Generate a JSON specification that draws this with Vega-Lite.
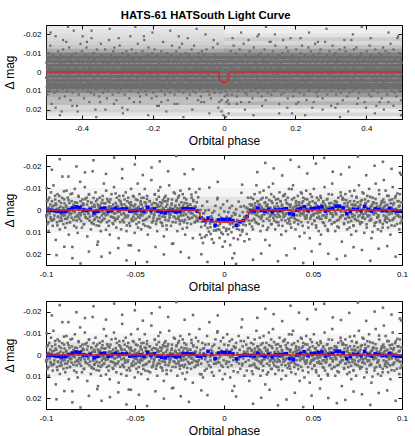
{
"$schema": "https://vega.github.io/schema/vega-lite/v6.json",
"background": "white",
"padding": {"left": 3, "top": 9, "right": 14, "bottom": 4},
"title": {"text": "HATS-61 HATSouth Light Curve", "font": "Liberation Sans", "fontSize": 11.3, "fontWeight": "bold", "color": "#000", "anchor": "middle", "offset": 3},
"bounds": "flush",
"spacing": 36,
"resolve": {"scale": {"opacity": "independent"}},
"data": {"values": "p,m\n-.0998,.0024\n-.0995,-.004\n-.0992,.0064\n-.0988,-.0008\n-.0985,.0096\n-.0982,-.0056\n-.0978,0\n-.0975,.0032\n-.0972,-.008\n-.0968,.0048\n-.0965,-.0016\n-.0962,.0072\n-.0958,-.0112\n-.0955,.004\n-.0952,.0008\n-.0948,-.0048\n-.0945,.0136\n-.0942,-.0024\n-.0938,.0056\n-.0935,-.0072\n-.0932,.0032\n-.0928,-.0008\n-.0925,-.0064\n-.0922,.0088\n-.0918,.0016\n-.0915,-.0032\n-.0912,.0048\n-.0908,-.0152\n-.0905,0\n-.0902,.0064\n-.0898,-.0048\n-.0895,.0024\n-.0892,.008\n-.0888,-.0016\n-.0885,-.0088\n-.0882,.004\n-.0878,-.0056\n-.0875,.0008\n-.0872,.0112\n-.0868,-.0032\n-.0865,.0056\n-.0862,-.0072\n-.0858,.0016\n-.0855,-.004\n-.0852,.0168\n-.0848,0\n-.0845,-.0024\n-.0842,.0072\n-.0838,-.0096\n-.0835,.0032\n-.0832,-.0008\n-.0828,.0048\n-.0825,-.0032\n-.0822,.0104\n-.0818,-.0064\n-.0815,.0016\n-.0812,.004\n-.0808,-.0128\n-.0805,.0024\n-.0802,-.0016\n-.0798,.008\n-.0795,-.0048\n-.0792,.0008\n-.0788,-.0024\n-.0785,.0064\n-.0782,-.0104\n-.0778,.0032\n-.0775,0\n-.0772,-.0056\n-.0768,.012\n-.0765,-.004\n-.0762,.0016\n-.0758,-.0072\n-.0755,.0048\n-.0752,-.0008\n-.0748,.0088\n-.0745,-.0032\n-.0742,.0056\n-.0738,-.0176\n-.0735,.0024\n-.0732,.0064\n-.0728,-.0024\n-.0725,.004\n-.0722,-.008\n-.0718,0\n-.0715,.0032\n-.0712,-.0048\n-.0708,.0144\n-.0705,-.0016\n-.0702,.0072\n-.0698,-.0056\n-.0695,.0008\n-.0692,.0096\n-.0688,-.0032\n-.0685,.0048\n-.0682,-.0064\n-.0678,.0016\n-.0675,-.012\n-.0672,.004\n-.0668,-.0008\n-.0665,.0024\n-.0662,-.0088\n-.0658,.0056\n-.0655,0\n-.0652,-.004\n-.0648,.0072\n-.0645,-.0016\n-.0642,.0112\n-.0638,-.0048\n-.0635,.0008\n-.0632,-.0072\n-.0628,.0032\n-.0625,-.0008\n-.0622,.0064\n-.0618,-.0104\n-.0615,.0016\n-.0612,.0048\n-.0608,-.0032\n-.0605,.008\n-.0602,-.0056\n-.0598,.004\n-.0595,-.0016\n-.0592,.0128\n-.0588,-.0064\n-.0585,.0008\n-.0582,-.004\n-.0578,.0088\n-.0575,-.0024\n-.0572,-.0144\n-.0568,.0048\n-.0565,0\n-.0562,.0056\n-.0558,-.0048\n-.0555,.0024\n-.0552,-.008\n-.0548,.0096\n-.0545,-.0008\n-.0542,.0032\n-.0538,-.0056\n-.0535,.016\n-.0532,-.0032\n-.0528,.0072\n-.0525,-.0024\n-.0522,-.0096\n-.0518,.004\n-.0515,.0008\n-.0512,-.0064\n-.0508,.0048\n-.0505,-.0016\n-.0502,.0104\n-.0498,.0016\n-.0495,-.0048\n-.0492,.0064\n-.0488,-.0008\n-.0485,-.012\n-.0482,.0032\n-.0478,.0056\n-.0475,-.0072\n-.0472,.0024\n-.0468,-.004\n-.0465,.0088\n-.0462,-.0024\n-.0458,0\n-.0455,.0048\n-.0452,-.0056\n-.0448,.0016\n-.0445,-.0096\n-.0442,.0072\n-.0438,-.0032\n-.0435,.004\n-.0432,-.0064\n-.0428,.0112\n-.0425,-.0016\n-.0422,.0032\n-.0418,-.004\n-.0415,.008\n-.0412,-.0008\n-.0408,-.0136\n-.0405,.0056\n-.0402,0\n-.0398,.0048\n-.0395,-.0032\n-.0392,.0024\n-.0388,-.0072\n-.0385,.0008\n-.0382,.0064\n-.0378,-.0048\n-.0375,.0096\n-.0372,-.0024\n-.0368,-.0088\n-.0365,-.0016\n-.0362,.004\n-.0358,-.0104\n-.0355,.0056\n-.0352,0\n-.0348,-.0032\n-.0345,.0072\n-.0342,-.0008\n-.0338,.012\n-.0335,-.0056\n-.0332,.0032\n-.0328,-.0064\n-.0325,.0016\n-.0322,.0088\n-.0318,-.004\n-.0315,0\n-.0312,.0048\n-.0308,-.0112\n-.0305,.0024\n-.0302,-.0008\n-.0298,.0072\n-.0295,-.0024\n-.0292,-.0048\n-.0288,.0008\n-.0285,.0152\n-.0282,-.008\n-.0278,.0032\n-.0275,-.0016\n-.0272,.0056\n-.0268,-.004\n-.0265,-.0008\n-.0262,.0096\n-.0258,-.0056\n-.0255,.004\n-.0252,-.0024\n-.0248,.0064\n-.0245,-.0088\n-.0242,.0016\n-.0238,0\n-.0235,.0048\n-.0232,-.0072\n-.0228,.0024\n-.0225,.0056\n-.0222,-.0032\n-.0218,.0112\n-.0215,-.0008\n-.0212,-.0048\n-.0208,.008\n-.0205,-.0016\n-.0202,.0032\n-.0198,.0008\n-.0195,-.0096\n-.0192,.004\n-.0188,-.0024\n-.0185,.0064\n-.0182,-.0056\n-.0178,.0016\n-.0175,.0128\n-.0172,-.004\n-.0168,-.0008\n-.0165,.0056\n-.0162,-.0016\n-.0158,-.008\n-.0155,.0048\n-.0152,0\n.0152,-.0056\n.0155,.0048\n.0158,-.0024\n.0162,.0088\n.0165,0\n.0168,.004\n.0172,-.0072\n.0175,-.0016\n.0178,.0056\n.0182,-.0112\n.0185,.0024\n.0188,.0008\n.0192,-.004\n.0195,.0064\n.0198,-.0008\n.0202,-.0024\n.0205,.0096\n.0208,-.0048\n.0212,.0032\n.0215,0\n.0218,.0072\n.0222,-.0088\n.0225,.0016\n.0228,-.0032\n.0232,.0136\n.0235,.0008\n.0238,-.0056\n.0242,.004\n.0245,-.0016\n.0248,.008\n.0252,-.0104\n.0255,.0048\n.0258,-.0008\n.0262,.0024\n.0265,-.0072\n.0268,.0064\n.0272,-.0032\n.0275,-.012\n.0278,.0016\n.0282,.0048\n.0285,-.0008\n.0288,.0088\n.0292,-.0048\n.0295,0\n.0298,.0032\n.0302,-.0016\n.0305,.0056\n.0308,.0024\n.0312,-.008\n.0315,.0008\n.0318,-.004\n.0322,.0112\n.0325,-.0024\n.0328,.0072\n.0332,-.0064\n.0335,.0032\n.0338,-.0008\n.0342,-.0072\n.0345,.0048\n.0348,.0096\n.0352,-.0032\n.0355,.0016\n.0358,-.0056\n.0362,.004\n.0365,-.0096\n.0368,0\n.0372,.0064\n.0375,-.0024\n.0378,.008\n.0382,-.0048\n.0385,.0008\n.0388,-.0112\n.0392,.0032\n.0395,.0056\n.0398,-.0016\n.0402,.0088\n.0405,-.004\n.0408,.0024\n.0412,-.0008\n.0415,-.0064\n.0418,.0048\n.0422,-.0024\n.0425,.012\n.0428,0\n.0432,-.008\n.0435,.0016\n.0438,-.0032\n.0442,.0072\n.0445,-.0056\n.0448,.0008\n.0452,.0104\n.0455,-.0016\n.0458,.004\n.0462,-.0088\n.0465,.0024\n.0468,-.0048\n.0472,.0056\n.0475,0\n.0478,-.0024\n.0482,.0128\n.0485,-.0072\n.0488,.0032\n.0492,-.0008\n.0495,.0064\n.0498,-.004\n.0502,.0024\n.0505,-.0096\n.0508,.0048\n.0512,.0016\n.0515,-.0032\n.0518,.008\n.0522,-.0056\n.0525,.0008\n.0528,-.0016\n.0532,.0096\n.0535,-.0008\n.0538,.004\n.0542,-.0064\n.0545,.0112\n.0548,-.0024\n.0552,0\n.0555,.0056\n.0558,-.004\n.0562,.0024\n.0565,-.0104\n.0568,.0072\n.0572,-.0016\n.0575,.0032\n.0578,-.0048\n.0582,.0088\n.0585,-.0008\n.0588,-.0072\n.0592,.0048\n.0595,0\n.0598,.0016\n.0602,-.0032\n.0605,.0064\n.0608,-.012\n.0612,.0024\n.0615,-.0008\n.0618,.0056\n.0622,-.004\n.0625,.0096\n.0628,.0016\n.0632,-.0024\n.0635,.0048\n.0638,0\n.0642,-.0056\n.0645,.008\n.0648,-.0016\n.0652,.0032\n.0655,-.008\n.0658,.0008\n.0662,.0144\n.0665,-.0048\n.0668,.0024\n.0672,-.0048\n.0675,.0064\n.0678,.0008\n.0682,-.0072\n.0685,.004\n.0688,-.0016\n.0692,.0088\n.0695,-.0032\n.0698,.0056\n.0702,-.0008\n.0705,.008\n.0708,-.004\n.0712,.0016\n.0715,.0112\n.0718,-.0064\n.0722,.0032\n.0725,-.0024\n.0728,.0072\n.0732,-.0088\n.0735,.004\n.0738,-.0024\n.0742,.0096\n.0745,-.0056\n.0748,0\n.0752,.0048\n.0755,-.0016\n.0758,-.0112\n.0762,.0024\n.0765,.0064\n.0768,-.004\n.0772,.0008\n.0775,.0056\n.0778,-.008\n.0782,.0032\n.0785,-.0008\n.0788,.0104\n.0792,-.0048\n.0795,.0016\n.0798,-.0032\n.0802,.008\n.0805,-.0064\n.0808,.0024\n.0812,0\n.0815,-.0096\n.0818,.0048\n.0822,-.0008\n.0825,.004\n.0828,.0128\n.0832,-.0024\n.0835,-.0056\n.0838,.0016\n.0842,-.0032\n.0845,.0072\n.0848,.0008\n.0852,-.012\n.0855,.0056\n.0858,-.0016\n.0862,.0032\n.0865,.0088\n.0868,.0024\n.0872,-.0072\n.0875,.0048\n.0878,-.0008\n.0882,.0096\n.0885,-.0032\n.0888,0\n.0892,.0064\n.0895,-.0048\n.0898,-.0136\n.0902,-.0016\n.0905,.004\n.0908,-.0088\n.0912,.0032\n.0915,.0056\n.0918,-.0024\n.0922,.008\n.0925,-.0064\n.0928,.0008\n.0932,.0048\n.0935,.0112\n.0938,-.0008\n.0942,.0016\n.0945,-.0048\n.0948,-.0104\n.0952,.004\n.0955,-.0032\n.0958,.0072\n.0962,0\n.0965,-.0064\n.0968,.0008\n.0972,.0064\n.0975,-.004\n.0978,.0024\n.0982,-.0016\n.0985,.0088\n.0988,-.0072\n.0992,.0032\n.0995,-.016\n.0998,.0048\n-.0967,-.0183\n-.0941,.0205\n-.0923,-.0231\n-.0897,.0167\n-.0874,-.0152\n-.0852,.0219\n-.0829,-.0198\n-.0806,.0243\n-.0781,-.0171\n-.0759,.0189\n-.0733,-.0226\n-.0712,.0158\n-.0688,.0212\n-.0663,-.0164\n-.0641,.0195\n-.0617,-.0238\n-.0594,.0173\n-.0572,-.0186\n-.0548,.0229\n-.0523,.0161\n-.0501,-.0207\n-.0478,.0184\n-.0456,-.0159\n-.0432,.0236\n-.0407,-.0193\n-.0385,.0168\n-.0361,-.0221\n-.0338,.0202\n-.0314,-.0176\n-.0292,.0154\n-.0268,-.0245\n-.0243,.0191\n-.0221,-.0163\n-.0197,.0217\n-.0174,-.0185\n.0163,.0226\n.0187,-.0172\n.0209,.0198\n.0232,-.0214\n.0256,.0161\n.0279,-.0189\n.0303,.0233\n.0327,-.0157\n.0351,.0206\n.0374,-.0228\n.0398,.0175\n.0421,-.0196\n.0445,.0241\n.0468,-.0166\n.0492,.0188\n.0516,-.0211\n.0539,.0155\n.0563,-.0237\n.0586,.0199\n.0611,-.0174\n.0634,.0223\n.0657,-.0162\n.0681,.0208\n.0704,-.0195\n.0728,.0169\n.0752,-.0243\n.0775,.0182\n.0799,-.0158\n.0822,.0231\n.0846,-.0201\n.0869,.0176\n.0893,-.0219\n.0917,.0164\n.0941,-.0187\n.0964,.0212\n.0988,-.0169\n-.0999,.003\n-.0996,-.01\n-.0993,.002\n-.0989,-.0045\n-.0986,.0055\n-.0983,-.001\n-.0979,.0015\n-.0976,-.0025\n-.0973,.004\n-.0969,.0005\n-.0966,-.004\n-.0963,0\n-.0959,.0045\n-.0956,-.002\n-.0953,.0025\n-.0949,-.0065\n-.0946,-.003\n-.0943,.001\n-.0939,-.0005\n-.0936,.007\n-.0933,.003\n-.0929,.0005\n-.0926,-.004\n-.0923,.005\n-.0919,-.0015\n-.0916,.0035\n-.0913,.002\n-.0909,-.0055\n-.0906,.0025\n-.0903,-.001\n-.0899,-.0085\n-.0896,-.003\n-.0893,.004\n-.0889,0\n-.0886,-.002\n-.0883,.006\n-.0879,-.0005\n-.0876,.003\n-.0873,-.0045\n-.0869,.0015\n-.0866,.0055\n-.0863,.002\n-.0859,-.001\n-.0856,.0035\n-.0853,-.0075\n-.0849,.0005\n-.0846,.0045\n-.0843,-.002\n-.0839,.001\n-.0836,-.0035\n-.0833,-.0015\n-.0829,.008\n-.0826,.0025\n-.0823,-.0005\n-.0819,.003\n-.0816,-.006\n-.0813,0\n-.0809,.0015\n-.0806,-.004\n-.0803,.005\n-.0799,-.002\n-.0796,.001\n-.0793,-.003\n-.0789,.0065\n-.0786,-.0005\n-.0783,.002\n-.0779,-.005\n-.0776,.0035\n-.0773,.0005\n-.0769,-.0025\n-.0766,.004\n-.0763,.0015\n-.0759,-.007\n-.0756,-.001\n-.0753,.003\n-.0749,0\n-.0746,-.0035\n-.0743,.006\n-.0739,-.0015\n-.0736,.0025\n-.0733,-.0055\n-.0729,.0045\n-.0726,-.0015\n-.0723,.002\n-.0719,-.004\n-.0716,.007\n-.0713,.001\n-.0709,-.0025\n-.0706,.005\n-.0703,-.0005\n-.0699,.0035\n-.0696,-.002\n-.0693,.0055\n-.0689,-.001\n-.0686,.0025\n-.0683,-.0045\n-.0679,.0005\n-.0676,.004\n-.0673,-.003\n-.0669,.0015\n-.0666,-.003\n-.0663,.009\n-.0659,.0005\n-.0656,-.005\n-.0653,.002\n-.0649,-.001\n-.0646,.005\n-.0643,-.0035\n-.0639,0\n-.0636,.003\n-.0633,-.0015\n-.0629,.001\n-.0626,.006\n-.0623,-.0025\n-.0619,.0035\n-.0616,-.0005\n-.0613,.0015\n-.0609,-.0075\n-.0606,.004\n-.0603,-.002\n-.0599,.001\n-.0596,0\n-.0593,.003\n-.0589,-.0045\n-.0586,-.0005\n-.0583,.0055\n-.0579,-.003\n-.0576,.002\n-.0573,-.001\n-.0569,.0045\n-.0566,-.0065\n-.0563,.0015\n-.0559,-.0025\n-.0556,.0035\n-.0553,0\n-.0549,-.0015\n-.0546,.007\n-.0543,-.004\n-.0539,.0025\n-.0536,-.0005\n-.0533,.006\n-.0529,-.001\n-.0526,.0005\n-.0523,-.0035\n-.0519,.005\n-.0516,-.002\n-.0513,.001\n-.0509,.003\n-.0506,-.006\n-.0503,.0015\n-.0499,-.0025\n-.0496,.004\n-.0493,-.0005\n-.0489,.002\n-.0486,-.0045\n-.0483,.008\n-.0479,-.0015\n-.0476,0\n-.0473,.0035\n-.0469,-.003\n-.0466,.0015\n-.0463,-.0055\n-.0459,.0025\n-.0456,-.001\n-.0453,.0065\n-.0449,.0005\n-.0446,-.0035\n-.0443,.0045\n-.0439,-.002\n-.0436,.001\n-.0433,-.005\n-.0429,0\n-.0426,.0075\n-.0423,-.0015\n-.0419,.003\n-.0416,-.004\n-.0413,-.0005\n-.0409,.0015\n-.0406,-.0025\n-.0403,.0055\n-.0399,-.001\n-.0396,.0035\n-.0393,.002\n-.0389,-.007\n-.0386,.0005\n-.0383,-.003\n-.0379,.005\n-.0376,-.0015\n-.0373,.004\n-.0369,0\n-.0366,-.006\n-.0363,.0025\n-.0359,-.0035\n-.0356,.001\n-.0353,-.002\n-.0349,.006\n-.0346,.003\n-.0343,-.0045\n-.0339,-.0005\n-.0336,.002\n-.0333,-.004\n-.0329,.0045\n-.0326,-.0015\n-.0323,.007\n-.0319,-.0025\n-.0316,.0005\n-.0313,-.005\n-.0309,.0015\n-.0306,.0035\n-.0303,-.001\n-.0299,.002\n-.0296,0\n-.0293,-.003\n-.0289,.0055\n-.0286,-.0005\n-.0283,.003\n-.0279,.001\n-.0276,-.0075\n-.0273,-.002\n-.0269,.004\n-.0266,-.0045\n-.0263,.0015\n-.0259,-.0005\n-.0256,.003\n-.0253,-.0065\n-.0249,.005\n-.0246,-.001\n-.0243,.0025\n-.0239,-.0035\n-.0236,.0005\n-.0233,.0085\n-.0229,-.002\n-.0226,.001\n-.0223,-.0055\n-.0219,.0045\n-.0216,0\n-.0213,.002\n-.0209,-.003\n-.0206,.006\n-.0203,-.0015\n-.0199,-.0005\n-.0196,.004\n-.0193,-.0025\n-.0189,.0005\n-.0186,.0015\n-.0183,-.007\n-.0179,.0035\n-.0176,-.001\n-.0173,-.0045\n-.0169,.0025\n-.0166,0\n-.0163,.0055\n-.0159,-.0015\n-.0156,.003\n-.0153,-.0035\n.0151,.0005\n.0154,-.002\n.0157,.0075\n.0161,.0015\n.0164,-.005\n.0167,-.001\n.0171,.0045\n.0174,-.003\n.0177,.002\n.0181,-.0005\n.0184,.006\n.0187,-.004\n.0191,.001\n.0194,-.0025\n.0197,.003\n.0201,-.008\n.0204,0\n.0207,.004\n.0211,-.0015\n.0214,.0025\n.0217,-.0055\n.0221,.005\n.0224,-.0005\n.0227,.002\n.0231,-.0035\n.0234,.001\n.0237,-.002\n.0241,.009\n.0244,-.0025\n.0247,.0015\n.0251,.0005\n.0254,-.0045\n.0257,.003\n.0261,-.001\n.0264,.0065\n.0267,-.004\n.0271,.002\n.0274,0\n.0277,.0035\n.0281,-.006\n.0284,-.0015\n.0287,.0025\n.0291,-.0005\n.0294,.0055\n.0297,-.003\n.0301,.0015\n.0304,-.005\n.0307,.007\n.0311,-.001\n.0314,.003\n.0317,-.004\n.0321,.0005\n.0324,.0045\n.0327,-.002\n.0331,.001\n.0334,.002\n.0337,-.0065\n.0341,-.0005\n.0344,.0025\n.0347,-.0045\n.0351,.0015\n.0354,-.003\n.0357,.006\n.0361,0\n.0364,-.0025\n.0367,.005\n.0371,-.0015\n.0374,.0035\n.0377,.0005\n.0381,-.0095\n.0384,.003\n.0387,-.001\n.0391,.002\n.0394,-.0055\n.0397,.004\n.0401,.0005\n.0404,-.003\n.0407,.0045\n.0411,-.002\n.0414,-.0005\n.0417,.0065\n.0421,-.0035\n.0424,.001\n.0427,.0025\n.0431,-.0015\n.0434,.0055\n.0437,-.0075\n.0441,.0015\n.0444,-.004\n.0447,.002\n.0451,0\n.0454,.003\n.0457,-.005\n.0461,-.001\n.0464,.0035\n.0467,-.0005\n.0471,-.0025\n.0474,.008\n.0477,.001\n.0481,-.0035\n.0484,.004\n.0487,-.0015\n.0491,.0025\n.0494,-.006\n.0497,.0005\n.0501,.002\n.0504,-.001\n.0507,.005\n.0511,-.003\n.0514,-.0005\n.0517,.007\n.0521,-.002\n.0524,.0035\n.0527,.0015\n.0531,-.0045\n.0534,.003\n.0537,0\n.0541,.001\n.0544,-.0055\n.0547,.004\n.0551,-.0015\n.0554,.0025\n.0557,-.0035\n.0561,.006\n.0564,-.0005\n.0567,-.0025\n.0571,.0035\n.0574,-.001\n.0577,.002\n.0581,-.005\n.0584,.0095\n.0587,.0005\n.0591,-.003\n.0594,-.0015\n.0597,.0045\n.0601,-.0005\n.0604,.0015\n.0607,-.007\n.0611,.003\n.0614,0\n.0617,-.0025\n.0621,.0055\n.0624,.001\n.0627,-.004\n.0631,.002\n.0634,-.0035\n.0637,.0075\n.0641,-.0005\n.0644,.0045\n.0647,-.002\n.0651,0\n.0654,.0035\n.0657,-.0065\n.0661,.0025\n.0664,-.001\n.0667,-.0055\n.0671,-.0015\n.0674,.006\n.0677,-.003\n.0681,.004\n.0684,.0005\n.0687,-.0045\n.0691,.0015\n.0694,-.002\n.0697,.003\n.0701,0\n.0704,.0035\n.0707,-.0085\n.0711,-.0005\n.0714,.005\n.0717,-.0025\n.0721,.002\n.0724,-.001\n.0727,.007\n.0731,-.004\n.0734,.0025\n.0737,-.002\n.0741,.0045\n.0744,-.006\n.0747,.001\n.0751,-.0035\n.0754,.003\n.0757,0\n.0761,-.0015\n.0764,.0055\n.0767,-.0025\n.0771,.0015\n.0774,-.0045\n.0777,.0035\n.0781,.002\n.0784,-.0075\n.0787,-.0005\n.0791,.004\n.0794,-.003\n.0797,.001\n.0801,.0065\n.0804,-.001\n.0807,.003\n.0811,-.004\n.0814,.0005\n.0817,.0025\n.0821,-.006\n.0824,-.0015\n.0827,.0045\n.0831,-.002\n.0834,.01\n.0837,-.0035\n.0841,.002\n.0844,-.0005\n.0847,.006\n.0851,-.005\n.0854,.0015\n.0857,-.003\n.0861,.0035\n.0864,0\n.0867,.003\n.0871,-.009\n.0874,-.0015\n.0877,.0055\n.0881,-.0025\n.0884,.0005\n.0887,-.004\n.0891,.008\n.0894,-.001\n.0897,.0025\n.0901,-.0035\n.0904,.005\n.0907,-.002\n.0911,.003\n.0914,.001\n.0917,-.0065\n.0921,.004\n.0924,-.0005\n.0927,.002\n.0931,-.0045\n.0934,.0005\n.0937,-.003\n.0941,.007\n.0944,-.001\n.0947,.0045\n.0951,-.0025\n.0954,0\n.0957,.0035\n.0961,-.0055\n.0964,.0015\n.0967,-.0005\n.0971,.0025\n.0974,-.0075\n.0977,.001\n.0981,-.004\n.0984,.003\n.0987,-.002\n.0991,.006\n.0994,.0005\n.0997,-.0035", "format": {"type": "csv", "parse": {"p": "number", "m": "number"}}},
"config": {
  "view": {"stroke": "#000", "strokeWidth": 1},
  "axis": {"grid": false, "domainColor": "#000", "domainWidth": 1, "tickColor": "#000", "tickWidth": 1, "tickSize": -4, "labelFont": "Liberation Sans", "labelFontSize": 8, "labelColor": "#000", "labelPadding": 9, "labelFlush": false, "labelOverlap": false, "titleFont": "Liberation Sans", "titleFontSize": 12, "titleFontWeight": "normal", "titleColor": "#000"},
  "axisX": {"titlePadding": 3},
  "axisY": {"titlePadding": 6}
},
"vconcat": [
{
  "width": 356, "height": 94,
  "data": {"values": "p,m\n-.500,.003\n-.499,-.005\n-.498,.008\n-.497,-.001\n-.496,.012\n-.495,-.007\n-.494,0\n-.493,.004\n-.492,-.010\n-.491,.006\n-.490,-.002\n-.489,.009\n-.488,-.014\n-.487,.005\n-.486,.001\n-.485,-.006\n-.484,.017\n-.483,-.003\n-.482,.007\n-.481,-.009\n-.480,.004\n-.479,-.001\n-.478,-.008\n-.477,.011\n-.476,.002\n-.475,-.004\n-.474,.006\n-.473,-.019\n-.472,0\n-.471,.008\n-.470,-.006\n-.469,.003\n-.468,.010\n-.467,-.002\n-.466,-.011\n-.465,.005\n-.464,-.007\n-.463,.001\n-.462,.014\n-.461,-.004\n-.460,.007\n-.459,-.009\n-.458,.002\n-.457,-.005\n-.456,.021\n-.455,0\n-.454,-.003\n-.453,.009\n-.452,-.012\n-.451,.004\n-.450,-.001\n-.449,.006\n-.448,-.004\n-.447,.013\n-.446,-.008\n-.445,.002\n-.444,.005\n-.443,-.016\n-.442,.003\n-.441,-.002\n-.440,.010\n-.439,-.006\n-.438,.001\n-.437,-.003\n-.436,.008\n-.435,-.013\n-.434,.004\n-.433,0\n-.432,-.007\n-.431,.015\n-.430,-.005\n-.429,.002\n-.428,-.009\n-.427,.006\n-.426,-.001\n-.425,.011\n-.424,-.004\n-.423,.007\n-.422,-.022\n-.421,.003\n-.420,.008\n-.419,-.003\n-.418,.005\n-.417,-.010\n-.416,0\n-.415,.004\n-.414,-.006\n-.413,.018\n-.412,-.002\n-.411,.009\n-.410,-.007\n-.409,.001\n-.408,.012\n-.407,-.004\n-.406,.006\n-.405,-.008\n-.404,.002\n-.403,-.015\n-.402,.005\n-.401,-.001\n-.400,.003\n-.399,-.011\n-.398,.007\n-.397,0\n-.396,-.005\n-.395,.009\n-.394,-.002\n-.393,.014\n-.392,-.006\n-.391,.001\n-.390,-.009\n-.389,.004\n-.388,-.001\n-.387,.008\n-.386,-.013\n-.385,.002\n-.384,.006\n-.383,-.004\n-.382,.010\n-.381,-.007\n-.380,.005\n-.379,-.002\n-.378,.016\n-.377,-.008\n-.376,.001\n-.375,-.005\n-.374,.011\n-.373,-.003\n-.372,-.018\n-.371,.006\n-.370,0\n-.369,.007\n-.368,-.006\n-.367,.003\n-.366,-.010\n-.365,.012\n-.364,-.001\n-.363,.004\n-.362,-.007\n-.361,.020\n-.360,-.004\n-.359,.009\n-.358,-.003\n-.357,-.012\n-.356,.005\n-.355,.001\n-.354,-.008\n-.353,.006\n-.352,-.002\n-.351,.013\n-.350,.002\n-.349,-.006\n-.348,.008\n-.347,-.001\n-.346,-.015\n-.345,.004\n-.344,.007\n-.343,-.009\n-.342,.003\n-.341,-.005\n-.340,.011\n-.339,-.003\n-.338,0\n-.337,.006\n-.336,-.007\n-.335,.002\n-.334,-.012\n-.333,.009\n-.332,-.004\n-.331,.005\n-.330,-.008\n-.329,.014\n-.328,-.002\n-.327,.004\n-.326,-.005\n-.325,.010\n-.324,-.001\n-.323,-.017\n-.322,.007\n-.321,0\n-.320,.006\n-.319,-.004\n-.318,.003\n-.317,-.009\n-.316,.001\n-.315,.008\n-.314,-.006\n-.313,.012\n-.312,-.003\n-.311,-.011\n-.310,-.002\n-.309,.005\n-.308,-.013\n-.307,.007\n-.306,0\n-.305,-.004\n-.304,.009\n-.303,-.001\n-.302,.015\n-.301,-.007\n-.300,.004\n-.299,-.008\n-.298,.002\n-.297,.011\n-.296,-.005\n-.295,0\n-.294,.006\n-.293,-.014\n-.292,.003\n-.291,-.001\n-.290,.009\n-.289,-.003\n-.288,-.006\n-.287,.001\n-.286,.019\n-.285,-.010\n-.284,.004\n-.283,-.002\n-.282,.007\n-.281,-.005\n-.280,-.001\n-.279,.012\n-.278,-.007\n-.277,.005\n-.276,-.003\n-.275,.008\n-.274,-.011\n-.273,.002\n-.272,0\n-.271,.006\n-.270,-.009\n-.269,.003\n-.268,.007\n-.267,-.004\n-.266,.014\n-.265,-.001\n-.264,-.006\n-.263,.010\n-.262,-.002\n-.261,.004\n-.260,.001\n-.259,-.012\n-.258,.005\n-.257,-.003\n-.256,.008\n-.255,-.007\n-.254,.002\n-.253,.016\n-.252,-.005\n-.251,-.001\n-.250,.007\n-.249,-.002\n-.248,-.010\n-.247,.006\n-.246,0\n-.245,.004\n-.244,-.008\n-.243,.003\n-.242,-.015\n-.241,.011\n-.240,-.003\n-.239,.005\n-.238,.002\n-.237,-.007\n-.236,.013\n-.235,-.001\n-.234,-.004\n-.233,.009\n-.232,-.006\n-.231,.001\n-.230,.008\n-.229,-.011\n-.228,.004\n-.227,-.002\n-.226,.006\n-.225,-.019\n-.224,.001\n-.223,.007\n-.222,-.003\n-.221,.010\n-.220,-.005\n-.219,0\n-.218,.012\n-.217,-.006\n-.216,.003\n-.215,-.009\n-.214,.005\n-.213,-.001\n-.212,-.013\n-.211,.004\n-.210,.002\n-.209,-.004\n-.208,.009\n-.207,.001\n-.206,-.008\n-.205,.006\n-.204,-.002\n-.203,.014\n-.202,-.010\n-.201,.003\n-.200,-.006\n-.199,.011\n-.198,-.001\n-.197,.005\n-.196,-.003\n-.195,-.012\n-.194,.007\n-.193,0\n-.192,.004\n-.191,-.008\n-.190,.013\n-.189,-.002\n-.188,.006\n-.187,-.009\n-.186,.001\n-.185,.003\n-.184,-.005\n-.183,.018\n-.182,-.004\n-.181,.002\n-.180,-.007\n-.179,.004\n-.178,-.001\n-.177,.010\n-.176,-.011\n-.175,.005\n-.174,-.003\n-.173,.008\n-.172,0\n-.171,-.016\n-.170,.006\n-.169,-.005\n-.168,.002\n-.167,-.008\n-.166,.012\n-.165,-.001\n-.164,.004\n-.163,-.006\n-.162,.009\n-.161,-.002\n-.160,-.010\n-.159,.003\n-.158,.015\n-.157,-.004\n-.156,.001\n-.155,-.007\n-.154,.006\n-.153,-.003\n-.152,.011\n-.151,0\n-.150,.005\n-.149,-.009\n-.148,-.002\n-.147,.007\n-.146,-.014\n-.145,.003\n-.144,.001\n-.143,-.005\n-.142,.008\n-.141,-.001\n-.140,-.003\n-.139,.012\n-.138,-.006\n-.137,.004\n-.136,0\n-.135,.009\n-.134,-.011\n-.133,.002\n-.132,-.004\n-.131,.017\n-.130,.001\n-.129,-.007\n-.128,.005\n-.127,-.002\n-.126,.010\n-.125,-.013\n-.124,.006\n-.123,-.001\n-.122,.003\n-.121,-.009\n-.120,.008\n-.119,-.004\n-.118,-.015\n-.117,.002\n-.116,.006\n-.115,-.001\n-.114,.011\n-.113,-.006\n-.112,0\n-.111,.004\n-.110,-.002\n-.109,.007\n-.108,.003\n-.107,-.010\n-.106,.001\n-.105,-.005\n-.104,.014\n-.103,-.003\n-.102,.009\n-.101,-.008\n-.100,.004\n-.099,-.001\n-.098,-.009\n-.097,.006\n-.096,.012\n-.095,-.004\n-.094,.002\n-.093,-.007\n-.092,.005\n-.091,-.012\n-.090,0\n-.089,.008\n-.088,-.003\n-.087,.010\n-.086,-.006\n-.085,.001\n-.084,-.014\n-.083,.004\n-.082,.007\n-.081,-.002\n-.080,.011\n-.079,-.005\n-.078,.003\n-.077,-.001\n-.076,-.008\n-.075,.006\n-.074,-.003\n-.073,.015\n-.072,0\n-.071,-.010\n-.070,.002\n-.069,-.004\n-.068,.009\n-.067,-.007\n-.066,.001\n-.065,.013\n-.064,-.002\n-.063,.005\n-.062,-.011\n-.061,.003\n-.060,-.006\n-.059,.007\n-.058,0\n-.057,-.003\n-.056,.016\n-.055,-.009\n-.054,.004\n-.053,-.001\n-.052,.008\n-.051,-.005\n-.050,.003\n-.049,-.012\n-.048,.006\n-.047,.002\n-.046,-.004\n-.045,.010\n-.044,-.007\n-.043,.001\n-.042,-.002\n-.041,.012\n-.040,-.001\n-.039,.005\n-.038,-.008\n-.037,.014\n-.036,-.003\n-.035,0\n-.034,.007\n-.033,-.005\n-.032,.003\n-.031,-.013\n-.030,.009\n-.029,-.002\n-.028,.004\n-.027,-.006\n-.026,.011\n-.025,-.001\n-.024,-.009\n-.023,.006\n-.022,0\n-.021,.002\n-.020,-.004\n-.019,.008\n-.018,-.015\n-.017,.003\n-.016,-.001\n-.015,.009\n-.014,-.002\n-.013,.016\n-.012,.007\n-.011,.002\n-.010,.011\n-.009,.005\n-.008,-.002\n-.007,.015\n-.006,.003\n-.005,.009\n-.004,-.005\n-.003,.006\n-.002,.023\n-.001,-.001\n0,.008\n.001,-.001\n.002,.013\n.003,.006\n.004,-.004\n.005,.010\n.006,.003\n.007,.016\n.008,.001\n.009,.012\n.010,.004\n.011,.015\n.012,0\n.013,.006\n.014,.017\n.015,-.006\n.016,.004\n.017,-.003\n.018,.009\n.019,-.011\n.020,.005\n.021,-.003\n.022,.012\n.023,-.007\n.024,0\n.025,.006\n.026,-.002\n.027,-.014\n.028,.003\n.029,.008\n.030,-.005\n.031,.001\n.032,.007\n.033,-.010\n.034,.004\n.035,-.001\n.036,.013\n.037,-.006\n.038,.002\n.039,-.004\n.040,.010\n.041,-.008\n.042,.003\n.043,0\n.044,-.012\n.045,.006\n.046,-.001\n.047,.005\n.048,.016\n.049,-.003\n.050,-.007\n.051,.002\n.052,-.004\n.053,.009\n.054,.001\n.055,-.015\n.056,.007\n.057,-.002\n.058,.004\n.059,.011\n.060,.003\n.061,-.009\n.062,.006\n.063,-.001\n.064,.012\n.065,-.004\n.066,0\n.067,.008\n.068,-.006\n.069,-.017\n.070,-.002\n.071,.005\n.072,-.011\n.073,.004\n.074,.007\n.075,-.003\n.076,.010\n.077,-.008\n.078,.001\n.079,.006\n.080,.014\n.081,-.001\n.082,.002\n.083,-.006\n.084,-.013\n.085,.005\n.086,-.004\n.087,.009\n.088,0\n.089,-.008\n.090,.001\n.091,.008\n.092,-.005\n.093,.003\n.094,-.002\n.095,.011\n.096,-.009\n.097,.004\n.098,-.020\n.099,.006\n.100,-.003\n.101,.007\n.102,0\n.103,-.010\n.104,.005\n.105,-.001\n.106,.013\n.107,-.006\n.108,.002\n.109,-.004\n.110,.009\n.111,-.007\n.112,.004\n.113,.001\n.114,-.012\n.115,.006\n.116,-.002\n.117,.015\n.118,-.005\n.119,0\n.120,-.008\n.121,.003\n.122,.011\n.123,-.004\n.124,.002\n.125,-.009\n.126,.007\n.127,-.001\n.128,-.016\n.129,.005\n.130,.004\n.131,-.002\n.132,-.006\n.133,.012\n.134,-.003\n.135,.008\n.136,0\n.137,-.011\n.138,.006\n.139,.001\n.140,-.001\n.141,.010\n.142,-.005\n.143,.003\n.144,-.014\n.145,.002\n.146,.005\n.147,-.007\n.148,.009\n.149,-.003\n.150,.007\n.151,-.004\n.152,.001\n.153,-.009\n.154,.006\n.155,.017\n.156,-.002\n.157,.004\n.158,-.008\n.159,0\n.160,-.005\n.161,.012\n.162,-.003\n.163,.002\n.164,-.010\n.165,.007\n.166,-.001\n.167,-.006\n.168,.011\n.169,.003\n.170,.002\n.171,-.008\n.172,.006\n.173,-.001\n.174,.004\n.175,-.013\n.176,.009\n.177,-.003\n.178,0\n.179,.014\n.180,-.011\n.181,.005\n.182,-.002\n.183,.008\n.184,.001\n.185,-.006\n.186,.003\n.187,-.018\n.188,.007\n.189,-.004\n.190,.006\n.191,0\n.192,-.009\n.193,.004\n.194,.013\n.195,-.002\n.196,-.007\n.197,.010\n.198,-.001\n.199,.005\n.200,-.003\n.201,.009\n.202,.002\n.203,-.012\n.204,.006\n.205,-.005\n.206,.001\n.207,.008\n.208,-.004\n.209,.016\n.210,0\n.211,-.007\n.212,.011\n.213,-.002\n.214,.005\n.215,-.010\n.216,.003\n.217,-.001\n.218,.007\n.219,-.014\n.220,.008\n.221,-.001\n.222,-.006\n.223,.004\n.224,-.003\n.225,.012\n.226,0\n.227,-.009\n.228,.005\n.229,.002\n.230,-.004\n.231,.006\n.232,.015\n.233,-.008\n.234,.001\n.235,-.002\n.236,.009\n.237,-.013\n.238,.003\n.239,-.006\n.240,.010\n.241,-.005\n.242,.002\n.243,-.001\n.244,-.011\n.245,.007\n.246,-.003\n.247,.004\n.248,.019\n.249,-.007\n.250,.001\n.251,-.009\n.252,.005\n.253,.008\n.254,-.002\n.255,0\n.256,-.015\n.257,.006\n.258,-.004\n.259,.011\n.260,-.006\n.261,.003\n.262,-.001\n.263,.013\n.264,-.007\n.265,.002\n.266,.010\n.267,-.003\n.268,-.010\n.269,.005\n.270,.004\n.271,-.012\n.272,.007\n.273,-.002\n.274,.001\n.275,-.005\n.276,.008\n.277,.014\n.278,-.006\n.279,0\n.280,-.001\n.281,.006\n.282,-.008\n.283,.003\n.284,-.016\n.285,.009\n.286,-.003\n.287,.002\n.288,.005\n.289,-.009\n.290,.012\n.291,-.004\n.292,0\n.293,.007\n.294,-.006\n.295,.001\n.296,-.011\n.297,.004\n.298,-.002\n.299,.008\n.300,-.007\n.301,.002\n.302,.010\n.303,-.003\n.304,.005\n.305,-.014\n.306,.001\n.307,.006\n.308,-.001\n.309,-.009\n.310,.003\n.311,-.005\n.312,.008\n.313,-.010\n.314,0\n.315,.012\n.316,-.004\n.317,.002\n.318,-.007\n.319,.017\n.320,-.002\n.321,.009\n.322,-.006\n.323,.004\n.324,-.001\n.325,-.012\n.326,.007\n.327,-.003\n.328,.011\n.329,.001\n.330,.006\n.331,-.008\n.332,.002\n.333,-.004\n.334,.015\n.335,-.001\n.336,-.006\n.337,.009\n.338,0\n.339,-.013\n.340,-.003\n.341,.004\n.342,-.011\n.343,.007\n.344,.001\n.345,-.005\n.346,.013\n.347,-.002\n.348,.003\n.349,-.008\n.350,.008\n.351,0\n.352,-.004\n.353,.011\n.354,-.009\n.355,.002\n.356,-.001\n.357,.006\n.358,-.017\n.359,.005\n.360,-.006\n.361,.010\n.362,.003\n.363,-.002\n.364,.007\n.365,-.012\n.366,.004\n.367,-.005\n.368,.001\n.369,.009\n.370,.002\n.371,-.003\n.372,-.013\n.373,.006\n.374,-.001\n.375,.008\n.376,-.007\n.377,.014\n.378,-.004\n.379,0\n.380,.011\n.381,-.006\n.382,.005\n.383,-.009\n.384,.003\n.385,-.001\n.386,-.010\n.387,.007\n.388,.002\n.389,-.004\n.390,-.001\n.391,.004\n.392,.009\n.393,-.007\n.394,0\n.395,.016\n.396,-.003\n.397,-.008\n.398,.006\n.399,-.002\n.400,.005\n.401,-.011\n.402,.002\n.403,.008\n.404,-.004\n.405,.001\n.406,-.006\n.407,.012\n.408,-.002\n.409,-.014\n.410,-.003\n.411,.007\n.412,0\n.413,-.009\n.414,.013\n.415,-.005\n.416,.003\n.417,-.001\n.418,.010\n.419,-.007\n.420,.009\n.421,-.002\n.422,-.008\n.423,.004\n.424,.001\n.425,-.012\n.426,.006\n.427,-.004\n.428,.018\n.429,-.001\n.430,-.005\n.431,.003\n.432,.011\n.433,-.006\n.434,-.001\n.435,.007\n.436,-.010\n.437,.002\n.438,-.003\n.439,.008\n.440,.001\n.441,-.009\n.442,.004\n.443,.014\n.444,-.007\n.445,0\n.446,.005\n.447,-.013\n.448,.006\n.449,-.002\n.450,-.008\n.451,.006\n.452,-.001\n.453,.003\n.454,-.011\n.455,.009\n.456,-.004\n.457,.001\n.458,.012\n.459,-.005\n.460,.004\n.461,-.003\n.462,.016\n.463,-.010\n.464,.002\n.465,-.006\n.466,.007\n.467,0\n.468,-.015\n.469,.003\n.470,-.002\n.471,.010\n.472,-.005\n.473,.001\n.474,.008\n.475,-.001\n.476,-.012\n.477,.005\n.478,-.007\n.479,.011\n.480,.007\n.481,-.006\n.482,0\n.483,-.003\n.484,.013\n.485,-.008\n.486,.002\n.487,-.018\n.488,.004\n.489,-.001\n.490,-.004\n.491,.005\n.492,-.010\n.493,.009\n.494,-.002\n.495,.003\n.496,-.007\n.497,.015\n.498,.001\n.499,-.005\n-.487,-.021\n-.473,.019\n-.461,.023\n-.452,-.017\n-.438,-.024\n-.426,.018\n-.411,.021\n-.397,-.019\n-.385,-.016\n-.372,-.022\n-.359,.024\n-.348,.016\n-.333,.020\n-.321,-.023\n-.309,.017\n-.296,-.018\n-.284,.022\n-.271,.020\n-.263,-.019\n-.249,-.024\n-.236,.016\n-.224,-.017\n-.213,.023\n-.201,-.021\n-.188,.018\n-.176,.016\n-.162,.021\n-.151,-.022\n-.139,.017\n-.127,-.019\n-.114,.024\n-.102,-.018\n-.089,.020\n-.077,-.023\n-.064,.016\n-.052,-.020\n-.041,.022\n-.029,-.017\n-.016,.019\n-.007,.021\n.005,.024\n.013,.022\n.024,-.018\n.036,.017\n.048,-.021\n.059,.020\n.071,.016\n.083,.023\n.094,-.019\n.107,.018\n.118,-.024\n.131,-.016\n.143,-.020\n.155,.022\n.166,-.017\n.178,.019\n.191,.022\n.203,.017\n.215,-.018\n.228,.023\n.239,-.021\n.252,.016\n.264,-.016\n.277,.020\n.288,-.023\n.301,.018\n.313,.019\n.326,.024\n.338,-.017\n.349,.021\n.362,-.020\n.374,.017\n.387,-.024\n.399,.019\n.412,-.018\n.424,.022\n.437,.016\n.449,.020\n.462,-.021\n.476,.018\n.489,-.019\n.497,.023", "format": {"type": "csv", "parse": {"p": "number", "m": "number"}}},
  "layer": [
    {
      "transform": [
        {"bin": {"step": 0.5, "extent": [-0.5, 0.5], "nice": false}, "field": "p", "as": ["p0", "p1"]},
        {"bin": {"step": 0.002, "extent": [-0.0265, 0.0255], "nice": false}, "field": "m", "as": ["m0", "m1"]},
        {"aggregate": [{"op": "count", "as": "n"}], "groupby": ["p0", "p1", "m0", "m1"]}
      ],
      "mark": {"type": "rect", "color": "#666666"},
      "encoding": {
        "x": {"field": "p0", "type": "quantitative", "scale": {"domain": [-0.5, 0.5], "nice": false, "zero": false}, "axis": null},
        "x2": {"field": "p1"},
        "y": {"field": "m0", "type": "quantitative", "scale": {"domain": [-0.025, 0.025], "nice": false, "zero": false, "reverse": true}, "axis": null},
        "y2": {"field": "m1"},
        "opacity": {"field": "n", "type": "quantitative", "scale": {"domain": [0, 26], "range": [0, 0.95], "clamp": true}, "legend": null}
      }
    },
    {
      "mark": {"type": "square", "size": 5, "color": "#6d6d6d", "opacity": 1},
      "encoding": {
        "x": {"field": "p", "type": "quantitative", "scale": {"domain": [-0.5, 0.5], "nice": false, "zero": false}, "axis": {"values": [-0.4, -0.2, 0, 0.2, 0.4], "title": "Orbital phase", "labelExpr": "replace(format(datum.value, '~g'), '\u2212', '-')"}},
        "y": {"field": "m", "type": "quantitative", "scale": {"domain": [-0.025, 0.025], "nice": false, "zero": false, "reverse": true}, "axis": {"values": [-0.02, -0.01, 0, 0.01, 0.02], "title": "\u0394 mag", "labelExpr": "replace(format(datum.value, '~g'), '\u2212', '-')"}}
      }
    },
    {
      "data": {"name": "model1", "values": [{"p": -0.5, "m": 0}, {"p": -0.0152, "m": 0}, {"p": -0.0145, "m": 0.0006}, {"p": -0.014, "m": 0.0013}, {"p": -0.0135, "m": 0.0024}, {"p": -0.013, "m": 0.0032}, {"p": -0.0125, "m": 0.0038}, {"p": -0.012, "m": 0.0043}, {"p": -0.0115, "m": 0.0046}, {"p": -0.011, "m": 0.0048}, {"p": -0.008, "m": 0.0051}, {"p": -0.004, "m": 0.0054}, {"p": 0, "m": 0.0055}, {"p": 0.004, "m": 0.0054}, {"p": 0.008, "m": 0.0051}, {"p": 0.011, "m": 0.0048}, {"p": 0.0115, "m": 0.0046}, {"p": 0.012, "m": 0.0043}, {"p": 0.0125, "m": 0.0038}, {"p": 0.013, "m": 0.0032}, {"p": 0.0135, "m": 0.0024}, {"p": 0.014, "m": 0.0013}, {"p": 0.0145, "m": 0.0006}, {"p": 0.0152, "m": 0}, {"p": 0.5, "m": 0}]},
      "mark": {"type": "line", "color": "#d42a2a", "strokeWidth": 1.6, "clip": true},
      "encoding": {
        "x": {"field": "p", "type": "quantitative", "scale": {"domain": [-0.5, 0.5], "nice": false, "zero": false}, "axis": {"orient": "top", "values": [-0.4, -0.2, 0, 0.2, 0.4], "labels": false, "title": null, "domain": false}},
        "y": {"field": "m", "type": "quantitative", "scale": {"domain": [-0.025, 0.025], "nice": false, "zero": false, "reverse": true}, "axis": {"orient": "right", "values": [-0.02, -0.01, 0, 0.01, 0.02], "labels": false, "title": null, "domain": false}}
      }
    }
  ],
  "resolve": {"axis": {"x": "independent", "y": "independent"}}
},
{
  "width": 356, "height": 110,
  "layer": [
    {
      "transform": [
        {"bin": {"step": 0.2, "extent": [-0.1, 0.1], "nice": false}, "field": "p", "as": ["p0", "p1"]},
        {"bin": {"step": 0.004, "extent": [-0.026, 0.026], "nice": false}, "field": "m", "as": ["m0", "m1"]},
        {"aggregate": [{"op": "count", "as": "n"}], "groupby": ["p0", "p1", "m0", "m1"]}
      ],
      "mark": {"type": "rect", "color": "#6d6d6d"},
      "encoding": {
        "x": {"field": "p0", "type": "quantitative", "scale": {"domain": [-0.1, 0.1], "nice": false, "zero": false}, "axis": null},
        "x2": {"field": "p1"},
        "y": {"field": "m0", "type": "quantitative", "scale": {"domain": [-0.025, 0.025], "nice": false, "zero": false, "reverse": true}, "axis": null},
        "y2": {"field": "m1"},
        "opacity": {"field": "n", "type": "quantitative", "scale": {"domain": [0, 370], "range": [0, 0.33], "clamp": true}, "legend": null}
      }
    },
    {
      "mark": {"type": "square", "size": 6.5, "color": "#6d6d6d", "opacity": 1},
      "encoding": {
        "x": {"field": "p", "type": "quantitative", "scale": {"domain": [-0.1, 0.1], "nice": false, "zero": false}, "axis": {"values": [-0.1, -0.05, 0, 0.05, 0.1], "title": "Orbital phase", "labelExpr": "replace(format(datum.value, '~g'), '\u2212', '-')"}},
        "y": {"field": "m", "type": "quantitative", "scale": {"domain": [-0.025, 0.025], "nice": false, "zero": false, "reverse": true}, "axis": {"values": [-0.02, -0.01, 0, 0.01, 0.02], "title": "\u0394 mag", "labelExpr": "replace(format(datum.value, '~g'), '\u2212', '-')"}}
      }
    },
    {
      "data": {"name": "transit2", "values": "p,m,r\n-.0148,.0038,.0032\n-.0145,-.0058,-.0064\n-.0142,.0037,.0024\n-.0138,-.0096,-.012\n-.0135,.0112,.0088\n-.0132,0,-.0024\n-.0128,.0077,.004\n-.0125,.0053,.0016\n-.0122,-.0019,-.0056\n-.0118,.015,.0104\n-.0115,.0038,-.0008\n-.0112,.0014,-.0032\n-.0108,.0122,.0072\n-.0105,.0002,-.0048\n-.0102,.0058,.0008\n-.0098,.0114,.0064\n-.0095,-.0038,-.0088\n-.0092,.0082,.0032\n-.0088,.0034,-.0016\n-.0085,.0098,.0048\n-.0082,-.0102,-.0152\n-.0078,.0061,.0008\n-.0075,.0109,.0056\n-.0072,.0029,-.0024\n-.0068,.0133,.008\n-.0065,.0013,-.004\n-.0062,.0053,0\n-.0058,.0149,.0096\n-.0055,.0005,-.0048\n-.0052,.0077,.0024\n-.0048,-.0019,-.0072\n-.0045,.0093,.004\n-.0042,.0045,-.0008\n-.0038,-.0049,-.0104\n-.0035,.0087,.0032\n-.0032,.0071,.0016\n-.0028,.0023,-.0032\n-.0025,.0127,.0072\n-.0022,.0063,.0008\n-.0018,-.0009,-.0064\n-.0015,.0103,.0048\n-.0012,.0039,-.0016\n-.0008,.0167,.0112\n-.0005,-.0025,-.008\n-.0002,.0079,.0024\n.0002,.0007,-.0048\n.0005,.0143,.0088\n.0008,.0047,-.0008\n.0012,.0095,.004\n.0015,.0031,-.0024\n.0018,-.0041,-.0096\n.0022,.0111,.0056\n.0025,.0055,0\n.0028,.0087,.0032\n.0032,-.0009,-.0064\n.0035,.0159,.0104\n.0038,.0039,-.0016\n.0042,.0101,.0048\n.0045,-.0019,-.0072\n.0048,.0061,.0008\n.0052,.0077,.0024\n.0055,.0013,-.004\n.0058,.0197,.0144\n.0062,.0021,-.0032\n.0065,.0069,.0016\n.0068,-.0003,-.0056\n.0072,.0085,.0032\n.0075,.0045,-.0008\n.0078,.0133,.008\n.0082,-.0038,-.0088\n.0085,.009,.004\n.0088,.0026,-.0024\n.0092,.0114,.0064\n.0095,.005,0\n.0098,-.0078,-.0128\n.0102,.0098,.0048\n.0105,.001,-.004\n.0108,.0066,.0016\n.0112,-.0018,-.0064\n.0115,.0142,.0096\n.0118,.0038,-.0008\n.0122,.0069,.0032\n.0125,-.0011,-.0048\n.0128,.0109,.0072\n.0132,.0008,-.0016\n.0135,-.0056,-.008\n.0138,.0048,.0024\n.0142,.0133,.012\n.0145,-.0026,-.0032\n.0148,.0014,.0008\n-.0093,.0236,.0186\n.0047,.0219,.0166\n.0102,-.0115,-.0165\n-.0035,-.0128,-.0183\n.0068,.0245,.0192\n-.0127,.0201,.0164\n-.0146,.0051,.0045\n-.0136,.0014,-.001\n-.0126,.0127,.009\n-.0116,.0016,-.003\n-.0106,.007,.002\n-.0096,.005,0\n-.0086,0,-.005\n-.0076,.0078,.0025\n-.0066,.0038,-.0015\n-.0056,.0093,.004\n-.0046,.0068,.0015\n-.0036,-.0055,-.011\n-.0026,.009,.0035\n-.0016,.0035,-.002\n-.0006,.011,.0055\n.0004,.005,-.0005\n.0014,.0085,.003\n.0024,.001,-.0045\n.0034,.0065,.001\n.0044,.0028,-.0025\n.0054,.0128,.0075\n.0064,.0018,-.0035\n.0074,.0053,0\n.0084,.007,.002\n.0094,-.0015,-.0065\n.0104,.009,.004\n.0114,.0031,-.0015\n.0124,.0042,.0005\n.0134,-.0006,-.003\n.0144,.0063,.005", "format": {"type": "csv", "parse": {"p": "number", "m": "number", "r": "number"}}},
      "mark": {"type": "square", "size": 6.5, "color": "#6d6d6d", "opacity": 1},
      "encoding": {
        "x": {"field": "p", "type": "quantitative", "scale": {"domain": [-0.1, 0.1], "nice": false, "zero": false}, "axis": null},
        "y": {"field": "m", "type": "quantitative", "scale": {"domain": [-0.025, 0.025], "nice": false, "zero": false, "reverse": true}, "axis": null}
      }
    },
    {
      "data": {"name": "bins2", "values": "p,m,r\n-.099,.0002,.0002\n-.097,.0001,.0001\n-.095,.0003,.0003\n-.093,.0006,.0006\n-.091,.0009,.0009\n-.089,.0008,.0008\n-.087,-.0002,-.0002\n-.085,-.0009,-.0009\n-.083,-.0014,-.0014\n-.081,-.0012,-.0012\n-.079,0,0\n-.077,.0002,.0002\n-.075,-.0002,-.0002\n-.073,.0012,.0012\n-.071,.0006,.0006\n-.069,-.0006,-.0006\n-.067,-.0009,-.0009\n-.065,.0006,.0006\n-.063,0,0\n-.061,-.0008,-.0008\n-.059,-.0002,-.0002\n-.057,-.0005,-.0005\n-.055,-.0005,-.0005\n-.053,.0005,.0005\n-.051,.0002,.0002\n-.049,.0003,.0003\n-.047,0,0\n-.045,.0006,.0006\n-.043,-.0011,-.0011\n-.041,.0002,.0002\n-.039,-.0005,-.0005\n-.037,.0005,.0005\n-.035,.0011,.0011\n-.033,.0012,.0012\n-.031,.0003,.0003\n-.029,.0002,.0002\n-.027,.0009,.0009\n-.025,.0006,.0006\n-.023,-.0006,-.0006\n-.021,-.0006,-.0006\n-.019,-.0005,-.0005\n-.017,-.0003,-.0003\n-.015,.0005,.0005\n-.013,.0035,.0007\n-.011,.0048,.0001\n-.009,.0037,-.0017\n-.007,.0048,-.0003\n-.005,.0069,.0016\n-.003,.0045,-.0009\n-.001,.0043,-.0012\n.001,.0043,-.0012\n.003,.0042,-.0012\n.005,.0048,-.0005\n.007,.0069,.0018\n.009,.0054,.0005\n.011,.0048,.0001\n.013,.0029,.0001\n.015,.0002,.0002\n.017,.0005,.0005\n.019,-.0009,-.0009\n.021,.0002,.0002\n.023,.0005,.0005\n.025,-.0003,-.0003\n.027,.0008,.0008\n.029,0,0\n.031,0,0\n.033,-.0003,-.0003\n.035,-.0006,-.0006\n.037,.0017,.0017\n.039,.002,.002\n.041,0,0\n.043,-.0006,-.0006\n.045,-.0015,-.0015\n.047,.0002,.0002\n.049,-.0005,-.0005\n.051,-.0008,-.0008\n.053,-.0011,-.0011\n.055,-.0014,-.0014\n.057,.0005,.0005\n.059,-.0002,-.0002\n.061,-.0008,-.0008\n.063,-.0017,-.0017\n.065,-.0017,-.0017\n.067,-.0009,-.0009\n.069,.0017,.0017\n.071,.0006,.0006\n.073,-.0003,-.0003\n.075,-.0003,-.0003\n.077,.0002,.0002\n.079,-.0017,-.0017\n.081,-.0002,-.0002\n.083,.0005,.0005\n.085,-.0005,-.0005\n.087,-.0002,-.0002\n.089,.0003,.0003\n.091,.0002,.0002\n.093,-.0008,-.0008\n.095,.0002,.0002\n.097,.0005,.0005\n.099,.0006,.0006", "format": {"type": "csv", "parse": {"p": "number", "m": "number", "r": "number"}}},
      "mark": {"type": "square", "size": 13, "color": "#0000ff", "opacity": 1},
      "encoding": {
        "x": {"field": "p", "type": "quantitative", "scale": {"domain": [-0.1, 0.1], "nice": false, "zero": false}, "axis": null},
        "y": {"field": "m", "type": "quantitative", "scale": {"domain": [-0.025, 0.025], "nice": false, "zero": false, "reverse": true}, "axis": null}
      }
    },
    {
      "data": {"name": "model1"},
      "mark": {"type": "line", "color": "#d42a2a", "strokeWidth": 1.6, "clip": true},
      "encoding": {
        "x": {"field": "p", "type": "quantitative", "scale": {"domain": [-0.1, 0.1], "nice": false, "zero": false}, "axis": {"orient": "top", "values": [-0.1, -0.05, 0, 0.05, 0.1], "labels": false, "title": null, "domain": false}},
        "y": {"field": "m", "type": "quantitative", "scale": {"domain": [-0.025, 0.025], "nice": false, "zero": false, "reverse": true}, "axis": {"orient": "right", "values": [-0.02, -0.01, 0, 0.01, 0.02], "labels": false, "title": null, "domain": false}}
      }
    }
  ],
  "resolve": {"axis": {"x": "independent", "y": "independent"}}
},
{
  "width": 356, "height": 108,
  "layer": [
    {
      "transform": [
        {"bin": {"step": 0.2, "extent": [-0.1, 0.1], "nice": false}, "field": "p", "as": ["p0", "p1"]},
        {"bin": {"step": 0.004, "extent": [-0.026, 0.026], "nice": false}, "field": "m", "as": ["m0", "m1"]},
        {"aggregate": [{"op": "count", "as": "n"}], "groupby": ["p0", "p1", "m0", "m1"]}
      ],
      "mark": {"type": "rect", "color": "#6d6d6d"},
      "encoding": {
        "x": {"field": "p0", "type": "quantitative", "scale": {"domain": [-0.1, 0.1], "nice": false, "zero": false}, "axis": null},
        "x2": {"field": "p1"},
        "y": {"field": "m0", "type": "quantitative", "scale": {"domain": [-0.025, 0.025], "nice": false, "zero": false, "reverse": true}, "axis": null},
        "y2": {"field": "m1"},
        "opacity": {"field": "n", "type": "quantitative", "scale": {"domain": [0, 370], "range": [0, 0.33], "clamp": true}, "legend": null}
      }
    },
    {
      "mark": {"type": "square", "size": 6.5, "color": "#6d6d6d", "opacity": 1},
      "encoding": {
        "x": {"field": "p", "type": "quantitative", "scale": {"domain": [-0.1, 0.1], "nice": false, "zero": false}, "axis": {"values": [-0.1, -0.05, 0, 0.05, 0.1], "title": "Orbital phase", "labelExpr": "replace(format(datum.value, '~g'), '\u2212', '-')"}},
        "y": {"field": "m", "type": "quantitative", "scale": {"domain": [-0.025, 0.025], "nice": false, "zero": false, "reverse": true}, "axis": {"values": [-0.02, -0.01, 0, 0.01, 0.02], "title": "\u0394 mag", "labelExpr": "replace(format(datum.value, '~g'), '\u2212', '-')"}}
      }
    },
    {
      "data": {"name": "transit2"},
      "mark": {"type": "square", "size": 6.5, "color": "#6d6d6d", "opacity": 1},
      "encoding": {
        "x": {"field": "p", "type": "quantitative", "scale": {"domain": [-0.1, 0.1], "nice": false, "zero": false}, "axis": null},
        "y": {"field": "r", "type": "quantitative", "scale": {"domain": [-0.025, 0.025], "nice": false, "zero": false, "reverse": true}, "axis": null}
      }
    },
    {
      "data": {"name": "bins2"},
      "mark": {"type": "square", "size": 13, "color": "#0000ff", "opacity": 1},
      "encoding": {
        "x": {"field": "p", "type": "quantitative", "scale": {"domain": [-0.1, 0.1], "nice": false, "zero": false}, "axis": null},
        "y": {"field": "r", "type": "quantitative", "scale": {"domain": [-0.025, 0.025], "nice": false, "zero": false, "reverse": true}, "axis": null}
      }
    },
    {
      "data": {"values": [{"p": -0.1, "m": 0}, {"p": 0.1, "m": 0}]},
      "mark": {"type": "line", "color": "#d42a2a", "strokeWidth": 1.6, "clip": true},
      "encoding": {
        "x": {"field": "p", "type": "quantitative", "scale": {"domain": [-0.1, 0.1], "nice": false, "zero": false}, "axis": {"orient": "top", "values": [-0.1, -0.05, 0, 0.05, 0.1], "labels": false, "title": null, "domain": false}},
        "y": {"field": "m", "type": "quantitative", "scale": {"domain": [-0.025, 0.025], "nice": false, "zero": false, "reverse": true}, "axis": {"orient": "right", "values": [-0.02, -0.01, 0, 0.01, 0.02], "labels": false, "title": null, "domain": false}}
      }
    }
  ],
  "resolve": {"axis": {"x": "independent", "y": "independent"}}
}
]
}
